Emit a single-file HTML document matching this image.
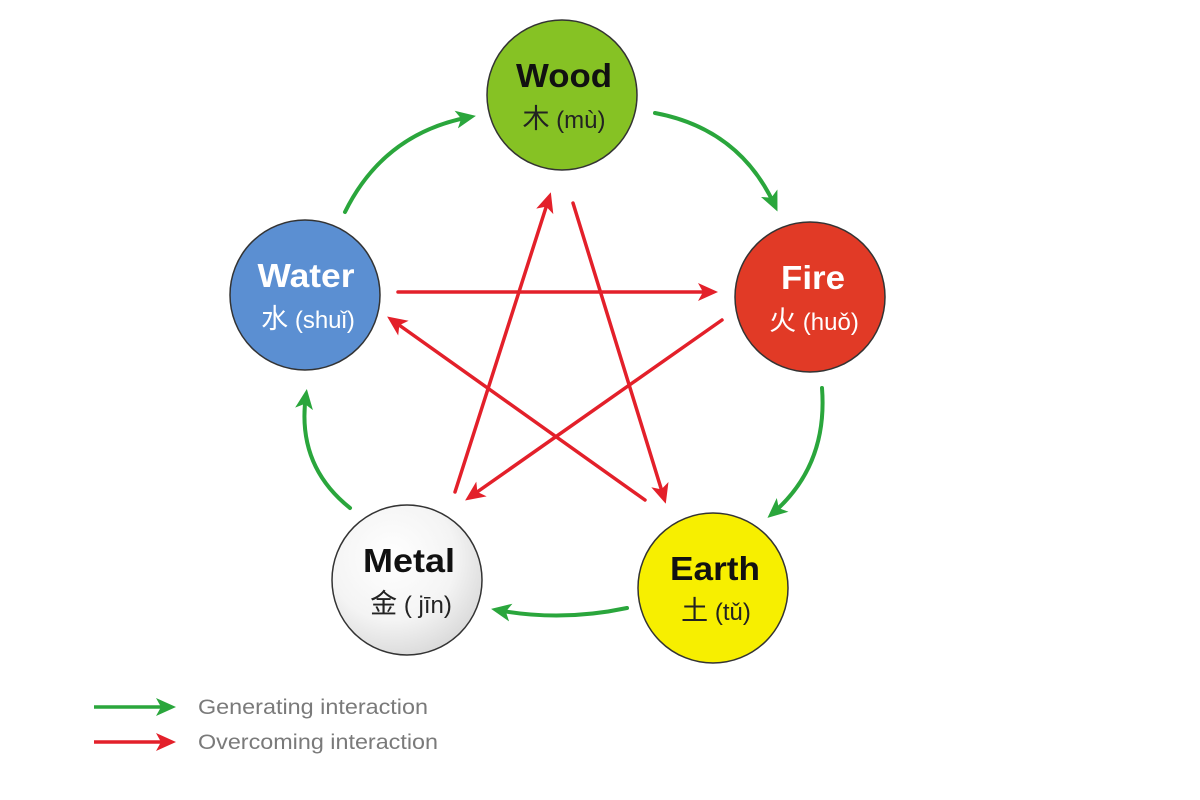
<!DOCTYPE html>
<html><head><meta charset="utf-8"><style>
html,body{margin:0;padding:0;background:#fff;}
svg{display:block;}
</style></head><body>
<svg width="1200" height="800" viewBox="0 0 1200 800" xmlns="http://www.w3.org/2000/svg">
<defs>
<marker id="gm" markerWidth="20" markerHeight="20" refX="14" refY="10" orient="auto" markerUnits="userSpaceOnUse" viewBox="0 0 20 20">
<path d="M0,1 L20,10 L0,19 L5,10 z" fill="#2aa63c"/></marker>
<marker id="rm" markerWidth="20" markerHeight="20" refX="14" refY="10" orient="auto" markerUnits="userSpaceOnUse" viewBox="0 0 20 20">
<path d="M0,1 L20,10 L0,19 L5,10 z" fill="#e3202a"/></marker>
<radialGradient id="mg" cx="0.4" cy="0.35" r="0.7"><stop offset="0" stop-color="#ffffff"/><stop offset="0.6" stop-color="#f4f4f4"/><stop offset="1" stop-color="#d8d8d8"/></radialGradient>
</defs>
<g fill="none" stroke-width="4" stroke-linecap="round">
<path d="M345,212 Q384,133 470,117" stroke="#2aa63c" marker-end="url(#gm)"/>
<path d="M655,113 Q740,129 775,206" stroke="#2aa63c" marker-end="url(#gm)"/>
<path d="M822,388 Q828,466 772,514" stroke="#2aa63c" marker-end="url(#gm)"/>
<path d="M627,608 Q561,622 497,610" stroke="#2aa63c" marker-end="url(#gm)"/>
<path d="M350,508 Q296,465 306,395" stroke="#2aa63c" marker-end="url(#gm)"/>
</g>
<g fill="none" stroke="#e3202a" stroke-width="3.5" stroke-linecap="round">
<line x1="398" y1="292" x2="712" y2="292" marker-end="url(#rm)"/>
<line x1="722" y1="320" x2="470" y2="497" marker-end="url(#rm)"/>
<line x1="455" y1="492" x2="549" y2="198" marker-end="url(#rm)"/>
<line x1="573" y1="203" x2="664" y2="498" marker-end="url(#rm)"/>
<line x1="645" y1="500" x2="392" y2="320" marker-end="url(#rm)"/>
</g>
<g stroke="#333" stroke-width="1.5">
<circle cx="562" cy="95" r="75" fill="#86c224"/>
<circle cx="810" cy="297" r="75" fill="#e13a26"/>
<circle cx="713" cy="588" r="75" fill="#f7ef00"/>
<circle cx="407" cy="580" r="75" fill="url(#mg)"/>
<circle cx="305" cy="295" r="75" fill="#5b8fd2"/>
</g>
<g font-family="'Liberation Sans','Noto Sans CJK SC',sans-serif" text-anchor="middle">
<text x="564" y="87" font-size="33" font-weight="bold" fill="#111" textLength="96" lengthAdjust="spacingAndGlyphs">Wood</text>
<text x="564" y="128" font-size="24" fill="#222"><tspan font-size="27">木</tspan> (mù)</text>
<text x="813" y="289" font-size="33" font-weight="bold" fill="#fff" textLength="64" lengthAdjust="spacingAndGlyphs">Fire</text>
<text x="814" y="330" font-size="24" fill="#fff"><tspan font-size="27">火</tspan> (huǒ)</text>
<text x="715" y="580" font-size="33" font-weight="bold" fill="#111" textLength="90" lengthAdjust="spacingAndGlyphs">Earth</text>
<text x="716" y="620" font-size="24" fill="#222"><tspan font-size="27">土</tspan> (tǔ)</text>
<text x="409" y="572" font-size="33" font-weight="bold" fill="#111" textLength="92" lengthAdjust="spacingAndGlyphs">Metal</text>
<text x="411" y="613" font-size="24" fill="#222"><tspan font-size="27">金</tspan> ( jīn)</text>
<text x="306" y="287" font-size="33" font-weight="bold" fill="#fff" textLength="97" lengthAdjust="spacingAndGlyphs">Water</text>
<text x="308" y="328" font-size="24" fill="#fff"><tspan font-size="27">水</tspan> (shuǐ)</text>
</g>
<g stroke-width="3.5">
<line x1="94" y1="707" x2="170" y2="707" stroke="#2aa63c" marker-end="url(#gm)"/>
<line x1="94" y1="742" x2="170" y2="742" stroke="#e3202a" marker-end="url(#rm)"/>
</g>
<g font-family="'Liberation Sans',sans-serif" font-size="21" fill="#7a7a7a">
<text x="198" y="714" textLength="230" lengthAdjust="spacingAndGlyphs">Generating interaction</text>
<text x="198" y="749" textLength="240" lengthAdjust="spacingAndGlyphs">Overcoming interaction</text>
</g>
</svg>
</body></html>
